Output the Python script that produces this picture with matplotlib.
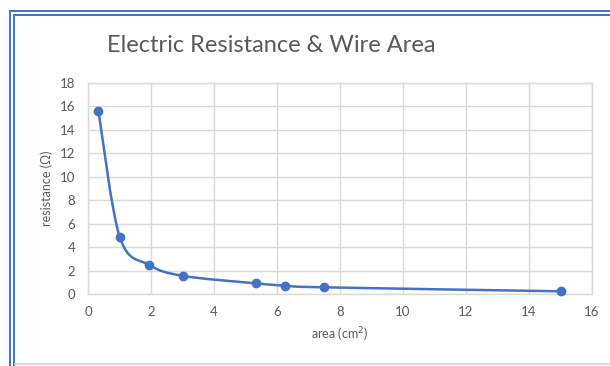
import numpy as np
import matplotlib.pyplot as plt
from matplotlib.path import Path
from matplotlib.patches import PathPatch
from matplotlib.lines import Line2D

# data
area = [0.33, 1.01, 1.95, 3.03, 5.32, 6.25, 7.49, 15.02]
resistance = [15.64, 4.84, 2.47, 1.54, 0.91, 0.71, 0.57, 0.23]

x_ticks = [0, 2, 4, 6, 8, 10, 12, 14, 16]
y_ticks = [0, 2, 4, 6, 8, 10, 12, 14, 16, 18]

blue = '#4472C4'
grey_text = '#595959'
grid_col = '#D9D9D9'

plt.rcParams['font.family'] = ['Lato', 'DejaVu Sans']

fig = plt.figure(figsize=(6.1, 3.66), dpi=100)
W, H = 610, 366

# frame like the excel chart border (double blue line + grey bottom)
def px(x, y):
    return x / W, 1 - y / H

for off in (9.5, 13.5):
    x0, y0 = px(off, off + 1)
    x1, _ = px(W, 0)
    _, y1 = px(0, H)
    fig.add_artist(Line2D([x0, x1], [y0, y0], color=blue, lw=1.4))
    fig.add_artist(Line2D([x0, x0], [y0, y1], color=blue, lw=1.4))
xa, ya = px(15, 364)
fig.add_artist(Line2D([xa, 1], [ya, ya], color='#D0D0D0', lw=1.2))

ax = fig.add_axes([88 / W, 1 - 294 / H, (592 - 88) / W, (294 - 83) / H])
ax.set_xlim(0, 16)
ax.set_ylim(0, 18)
ax.set_xticks(x_ticks)
ax.set_yticks(y_ticks)
ax.grid(True, color=grid_col, lw=1)
ax.set_axisbelow(True)
for s in ax.spines.values():
    s.set_color(grid_col)
    s.set_linewidth(1)
ax.tick_params(length=0, labelsize=9.5, labelcolor=grey_text)
ax.tick_params(axis='y', pad=9)
ax.tick_params(axis='x', pad=9)

# smoothed line (excel style bezier)
pts = np.column_stack([area, resistance])
verts = [pts[0]]
codes = [Path.MOVETO]
n = len(pts)
for i in range(n - 1):
    p0 = pts[i - 1] if i > 0 else pts[i]
    p1 = pts[i]
    p2 = pts[i + 1]
    p3 = pts[i + 2] if i + 2 < n else pts[i + 1]
    c1 = p1 + (p2 - p0) / 6
    c2 = p2 - (p3 - p1) / 6
    verts += [c1, c2, p2]
    codes += [Path.CURVE4] * 3
ax.add_patch(PathPatch(Path(verts, codes), fill=False, edgecolor=blue, lw=1.8, zorder=3))
ax.plot(area, resistance, 'o', color=blue, ms=6, zorder=4, clip_on=False)

ax.set_xlabel('area (cm$^2$)', fontsize=9, color=grey_text, labelpad=5)
ax.set_ylabel('resistance (Ω)', fontsize=9, color=grey_text, labelpad=5)

fig.text(271.5 / W, 1 - 46 / H, 'Electric Resistance & Wire Area', fontsize=17,
         color=grey_text, ha='center', va='center')

fig.savefig('out.png', dpi=100)
